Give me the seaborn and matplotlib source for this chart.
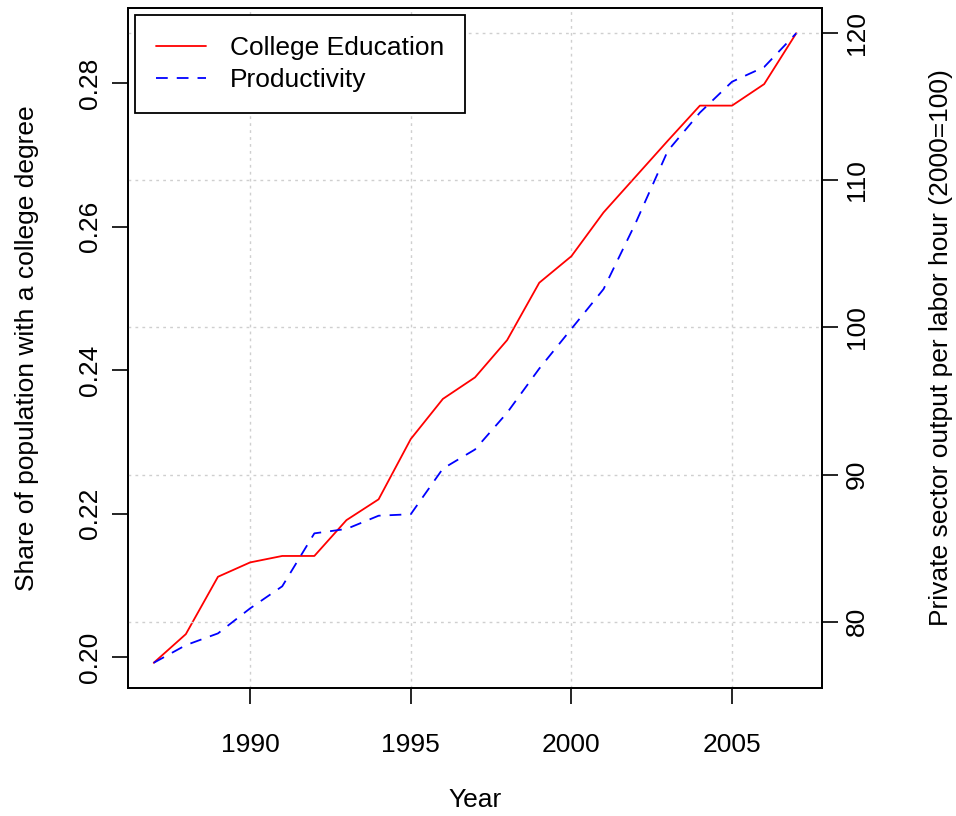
import matplotlib
matplotlib.use("Agg")
import matplotlib.pyplot as plt
import seaborn as sns

# data
years = list(range(1987, 2008))
college = [0.1992, 0.2032, 0.2112, 0.2132, 0.2141, 0.2141, 0.2191, 0.2220,
           0.2304, 0.2360, 0.2390, 0.2442, 0.2522, 0.2559, 0.2620, 0.2670,
           0.2720, 0.2769, 0.2769, 0.2799, 0.2870]
productivity = [77.2, 78.4, 79.2, 80.9, 82.4, 86.0, 86.3, 87.2, 87.3, 90.4,
                91.7, 94.2, 97.2, 99.9, 102.6, 107.1, 112.0, 114.6, 116.7,
                117.7, 120.0]
x_ticks = [1990, 1995, 2000, 2005]
left_ticks = [0.20, 0.22, 0.24, 0.26, 0.28]
right_ticks = [80, 90, 100, 110, 120]

sns.set_style("white")
plt.rcParams["font.family"] = ["Liberation Sans", "DejaVu Sans"]
FS = 19

fig = plt.figure(figsize=(9.56, 8.16), dpi=100)
ax = fig.add_axes([128 / 956, 1 - 688 / 816, 694 / 956, 680 / 816])
ax2 = ax.twinx()

sns.lineplot(x=years, y=college, ax=ax, color="red", lw=1.3,
             label="College Education", legend=False)
sns.lineplot(x=years, y=productivity, ax=ax2, color="blue", lw=1.3,
             linestyle=(0, (6.5, 5)), label="Productivity", legend=False)


def r_lims(vals):
    # R pads each axis range by 4% on both sides
    lo, hi = min(vals), max(vals)
    pad = 0.04 * (hi - lo)
    return lo - pad, hi + pad


ax.set_xlim(*r_lims(years))
ax.set_ylim(*r_lims(college))
ax2.set_ylim(*r_lims(productivity))

ax.set_xticks(x_ticks)
ax.set_yticks(left_ticks)
ax.set_yticklabels([f"{v:.2f}" for v in left_ticks])
ax2.set_yticks(right_ticks)

# grid: vertical at year ticks, horizontal at the right axis ticks
grid_kw = dict(color="#cfcfcf", linestyle=(0, (2, 3)), linewidth=1)
ax.grid(axis="x", **grid_kw)
ax.grid(axis="y", visible=False)
ax2.grid(axis="y", **grid_kw)
ax2.grid(axis="x", visible=False)

for a in (ax, ax2):
    for sp in a.spines.values():
        sp.set_visible(True)
        sp.set_color("black")
        sp.set_linewidth(1.3)
    a.tick_params(length=11.5, width=1.2, color="black", labelsize=FS,
                  labelcolor="black", direction="out")

ax.tick_params(axis="x", bottom=True, pad=21)
ax.tick_params(axis="y", left=True, labelrotation=90, pad=7)
ax2.tick_params(axis="y", right=True, labelrotation=90, pad=5)
for lab in ax.get_yticklabels() + ax2.get_yticklabels():
    lab.set_va("center")

ax.set_xlabel("Year", fontsize=FS, color="black")
ax.xaxis.set_label_coords(0.5, (688 - 800) / 680)
ax.xaxis.label.set_va("center")
ax.set_ylabel("Share of population with a college degree", fontsize=FS,
              color="black")
ax.yaxis.set_label_coords((27 - 128) / 694, 0.5)
ax.yaxis.label.set_va("center")
ax2.set_ylabel("Private sector output per labor hour (2000=100)", fontsize=FS,
               color="black")
ax2.yaxis.set_label_coords((941 - 128) / 694, 0.5)
ax2.yaxis.label.set_va("center")

h1, l1 = ax.get_legend_handles_labels()
h2, l2 = ax2.get_legend_handles_labels()
leg = ax2.legend(h1 + h2, l1 + l2, loc="upper left", fontsize=FS,
                 fancybox=False, framealpha=1, edgecolor="black",
                 borderaxespad=0.27, borderpad=0.8, handlelength=1.9,
                 handletextpad=0.9, labelspacing=0.3)
leg.get_frame().set_linewidth(1.3)
for t in leg.get_texts():
    t.set_color("black")

fig.savefig("out.png", dpi=100)
